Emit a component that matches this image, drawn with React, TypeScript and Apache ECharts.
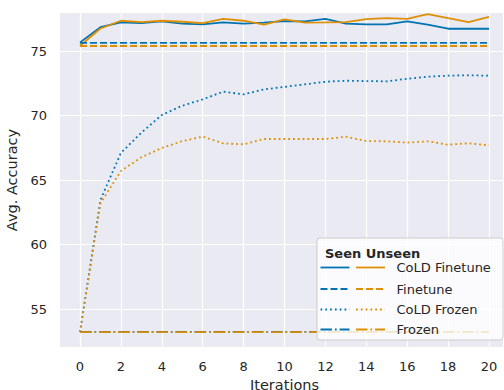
import React, { useEffect, useRef } from "react";
import * as echarts from "echarts";

const iterations = [0, 1, 2, 3, 4, 5, 6, 7, 8, 9, 10, 11, 12, 13, 14, 15, 16, 17, 18, 19, 20];
const xTicks = [0, 2, 4, 6, 8, 10, 12, 14, 16, 18, 20];
const yTicks = [55, 60, 65, 70, 75];

const coldFinetuneSeen = [75.67, 76.85, 77.22, 77.17, 77.3, 77.12, 77.07, 77.22, 77.13, 77.2, 77.32, 77.3, 77.5, 77.12, 77.07, 77.07, 77.3, 77.04, 76.73, 76.73, 76.73];
const coldFinetuneUnseen = [75.41, 76.75, 77.35, 77.25, 77.35, 77.27, 77.17, 77.5, 77.35, 77.04, 77.46, 77.2, 77.22, 77.25, 77.48, 77.56, 77.5, 77.87, 77.56, 77.25, 77.64];
const finetuneSeen = 75.64;
const finetuneUnseen = 75.39;
const coldFrozenSeen = [53.2, 63.45, 67.1, 68.67, 70.04, 70.76, 71.25, 71.85, 71.64, 72.03, 72.22, 72.42, 72.62, 72.7, 72.67, 72.65, 72.85, 73.01, 73.09, 73.12, 73.09];
const coldFrozenUnseen = [53.2, 63.2, 65.7, 66.76, 67.48, 68.02, 68.36, 67.84, 67.77, 68.18, 68.18, 68.18, 68.18, 68.36, 68.02, 68.0, 67.9, 68.0, 67.74, 67.85, 67.69];
const frozenSeen = 53.22;
const frozenUnseen = 53.2;

const legendNames = ["CoLD Finetune", "Finetune", "CoLD Frozen", "Frozen"];
const legendTitle = "Seen Unseen";

const BLUE = "#0173b2";
const ORANGE = "#de8f05";
const TEXT = "#262626";
const FONT = "DejaVu Sans";
const LW = 1.8;

const DASHES: any[] = ["solid", [7, 3], [1.8, 3], [11.5, 2.9, 1.8, 2.9]];

export default function App() {
  const ref = useRef<HTMLDivElement>(null);
  useEffect(() => {
    document.body.style.margin = "0";
    const chart = echarts.init(ref.current!, null, { renderer: "svg" });
    const pairs = (vals: number[]) => iterations.map((x, i) => [x, vals[i]]);
    const flat = (v: number) => iterations.map((x) => [x, v]);

    const mk = (name: string, data: any[], color: string, dash: any) => ({
      name,
      type: "line",
      xAxisIndex: 1,
      yAxisIndex: 1,
      data,
      showSymbol: false,
      symbol: "none",
      lineStyle: { color, width: LW, type: dash, cap: "butt" },
      z: 3,
    });

    const series = [
      mk("CoLD Finetune Seen", pairs(coldFinetuneSeen), BLUE, DASHES[0]),
      mk("CoLD Finetune Unseen", pairs(coldFinetuneUnseen), ORANGE, DASHES[0]),
      mk("Finetune Seen", flat(finetuneSeen), BLUE, DASHES[1]),
      mk("Finetune Unseen", flat(finetuneUnseen), ORANGE, DASHES[1]),
      mk("CoLD Frozen Seen", pairs(coldFrozenSeen), BLUE, DASHES[2]),
      mk("CoLD Frozen Unseen", pairs(coldFrozenUnseen), ORANGE, DASHES[2]),
      mk("Frozen Seen", flat(frozenSeen), BLUE, DASHES[3]),
      mk("Frozen Unseen", flat(frozenUnseen), ORANGE, DASHES[3]),
    ];

    // legend graphic
    const lx = 317, ly = 238, lw = 186, lh = 102;
    const rowY = [267.5, 289, 309.5, 329.5];
    const legendChildren: any[] = [
      {
        type: "rect",
        shape: { x: lx, y: ly, width: lw, height: lh, r: 3 },
        style: { fill: "rgba(255,255,255,0.8)", stroke: "#cccccc", lineWidth: 1 },
        z: 100,
      },
      {
        type: "text",
        x: 325,
        y: 253,
        style: { text: legendTitle, fill: TEXT, font: `bold 13px "${FONT}"`, textVerticalAlign: "middle", verticalAlign: "middle" },
        z: 101,
      },
    ];
    legendNames.forEach((n, i) => {
      const y = rowY[i];
      const dash = DASHES[i] === "solid" ? null : DASHES[i];
      legendChildren.push(
        {
          type: "line",
          shape: { x1: 320.5, y1: y, x2: 349.5, y2: y },
          style: { stroke: BLUE, lineWidth: LW, lineDash: dash, lineCap: "butt" },
          z: 101,
        },
        {
          type: "line",
          shape: { x1: 356, y1: y, x2: 385, y2: y },
          style: { stroke: ORANGE, lineWidth: LW, lineDash: dash, lineCap: "butt" },
          z: 101,
        },
        {
          type: "text",
          x: 396.5,
          y,
          style: { text: n, fill: TEXT, font: `13px "${FONT}"`, textVerticalAlign: "middle", verticalAlign: "middle" },
          z: 101,
        }
      );
    });

    chart.setOption({
      animation: false,
      textStyle: { fontFamily: FONT },
      graphic: [
        {
          type: "rect",
          shape: { x: 60, y: 13, width: 443, height: 334 },
          style: { fill: "#eaeaf2" },
          z: -100,
          silent: true,
        },
        ...legendChildren,
      ],
      grid: [
        { left: 60, width: 443, top: 51, height: 258, outerBoundsMode: "none", containLabel: false },
        { left: 80, width: 409, top: 13, height: 334, outerBoundsMode: "none", containLabel: false },
      ],
      xAxis: [
        {
          gridIndex: 0,
          type: "value",
          min: 0,
          max: 1,
          show: false,
          splitLine: { show: false },
        },
        {
          gridIndex: 1,
          type: "value",
          min: xTicks[0],
          max: xTicks[xTicks.length - 1],
          interval: 2,
          name: "Iterations",
          nameLocation: "middle",
          nameGap: 28.5,
          nameTextStyle: { color: TEXT, fontSize: 14.5, fontFamily: FONT },
          axisLine: { show: false },
          axisTick: { show: false },
          axisLabel: { color: TEXT, fontSize: 13, fontFamily: FONT, margin: 13 },
          splitLine: { show: true, lineStyle: { color: "#ffffff", width: 1.2 } },
        },
      ],
      yAxis: [
        {
          gridIndex: 0,
          type: "value",
          min: yTicks[0],
          max: yTicks[yTicks.length - 1],
          interval: 5,
          name: "Avg. Accuracy",
          nameLocation: "middle",
          nameGap: 34,
          nameTextStyle: { color: TEXT, fontSize: 14.5, fontFamily: FONT },
          axisLine: { show: false },
          axisTick: { show: false },
          axisLabel: { color: TEXT, fontSize: 13, fontFamily: FONT, margin: 13 },
          splitLine: { show: true, lineStyle: { color: "#ffffff", width: 1.2 } },
        },
        {
          gridIndex: 1,
          type: "value",
          min: 52.05,
          max: 77.95,
          show: false,
          splitLine: { show: false },
        },
      ],
      series,
    });
    return () => chart.dispose();
  }, []);
  return <div ref={ref} style={{ width: 504, height: 390 }} />;
}
